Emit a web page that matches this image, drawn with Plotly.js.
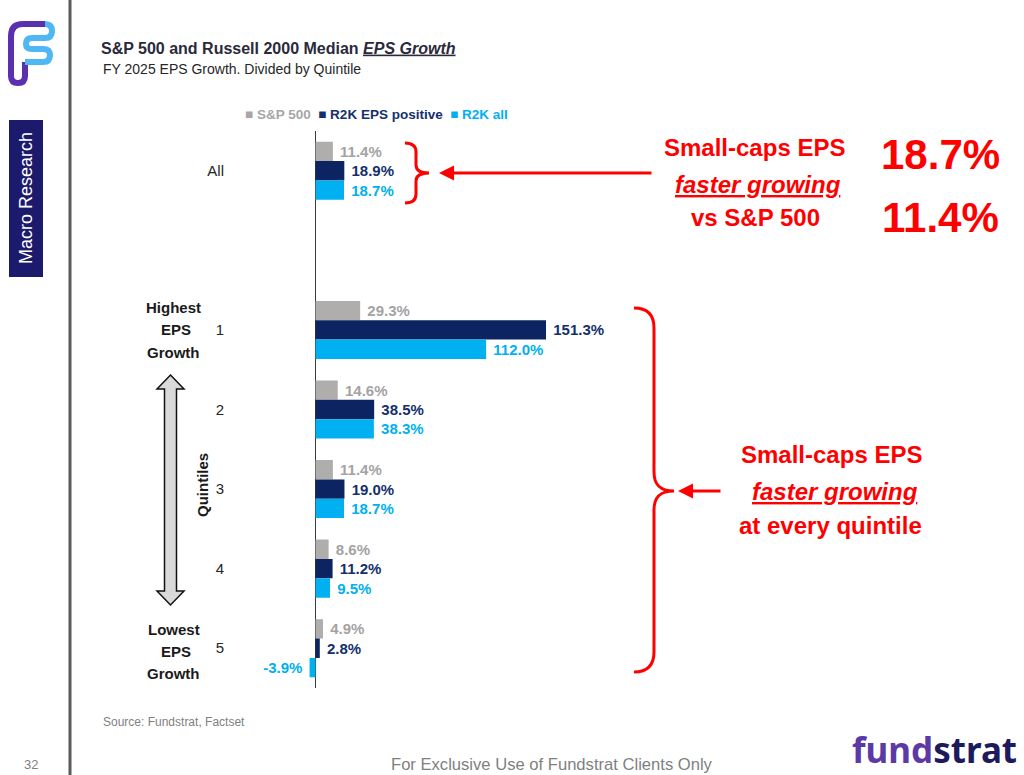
<!DOCTYPE html>
<html>
<head>
<meta charset="utf-8">
<script src="https://cdn.plot.ly/plotly-3.0.1.min.js"></script>
<style>html,body{margin:0;padding:0;background:#fff;}#chart{width:1024px;height:775px;}</style>
</head>
<body>
<div id="chart"></div>
<script>
// ---- data ----
const categories = ['All', 'gap', '1', '2', '3', '4', '5'];
const categoryText = ['All', '', '1', '2', '3', '4', '5'];
const groups = ['All', '1', '2', '3', '4', '5'];
const seriesNames = ['S&P 500', 'R2K EPS positive', 'R2K all'];
const sp500 = [11.4, 29.3, 14.6, 11.4, 8.6, 4.9];
const r2kPositive = [18.9, 151.3, 38.5, 19.0, 11.2, 2.8];
const r2kAll = [18.7, 112.0, 38.3, 18.7, 9.5, -3.9];

// ---- style ----
const W = 1024, H = 775;
const px = x => x / W, py = y => 1 - y / H;
const FONT = 'Liberation Sans, Arial, sans-serif';
const barColors = ['#b0adad', '#0c2461', '#00b0f0'];
const labelColors = ['#a3a3a3', '#13306c', '#00b0f0'];
const RED = '#ff0000';
const NB = '\u00a0';

function labels(vals) {
  return vals.map(v => v < 0 ? v.toFixed(1) + '%' + NB : NB + v.toFixed(1) + '%');
}

const seriesVals = [sp500, r2kPositive, r2kAll];
const traces = seriesVals.map((vals, i) => ({
  type: 'bar',
  orientation: 'h',
  name: seriesNames[i],
  y: groups,
  x: vals,
  marker: {color: barColors[i]},
  text: labels(vals),
  textposition: 'outside',
  textfont: {family: FONT, size: 15, weight: 'bold', color: labelColors[i]},
  constraintext: 'none',
  cliponaxis: false,
  hoverinfo: 'skip'
}));

// pixel path -> paper path
function path(cmds) {
  return cmds.replace(/(-?\d+(?:\.\d+)?),(-?\d+(?:\.\d+)?)/g, (m, a, b) => px(+a) + ',' + py(+b));
}

const shapes = [
  // vertical divider
  {type: 'line', xref: 'paper', yref: 'paper', x0: px(70), x1: px(70), y0: 0, y1: 1, line: {color: '#5a5a5a', width: 3}},
  // Macro Research box
  {type: 'rect', xref: 'paper', yref: 'paper', x0: px(9), x1: px(43), y0: py(277), y1: py(120), fillcolor: '#1c1a6c', line: {width: 0}},
  // logo
  {type: 'path', xref: 'paper', yref: 'paper', path: path('M 25,62 L 25,76 Q 25,83 18,83 Q 11,83 11,76 L 11,36 Q 11,24 23,24 L 45,24'), line: {color: '#5a2fb0', width: 6}},
  {type: 'path', xref: 'paper', yref: 'paper', path: path('M 45,24 Q 52,24 52,31 Q 52,38 45,38 L 32,38 Q 26,38 26,44 Q 26,49 32,49 L 43,49 Q 50,49 50,55 Q 50,62 43,62 L 25,62'), line: {color: '#4fb8f2', width: 6}},
  // double arrow
  {type: 'path', xref: 'paper', yref: 'paper', path: path('M 170.5,375 L 184,389 L 176.5,389 L 176.5,591 L 184,591 L 170.5,605 L 157,591 L 164.5,591 L 164.5,389 L 157,389 Z'), fillcolor: '#d9d9d9', line: {color: '#111111', width: 1.5}},
  // brace 1
  {type: 'path', xref: 'paper', yref: 'paper', path: path('M 405,143 C 412,143 416,146 416,152 L 416,165 C 416,170 420,173 429,173 C 420,173 416,176 416,181 L 416,194 C 416,200 412,203 405,203'), line: {color: RED, width: 3}},
  // brace 2
  {type: 'path', xref: 'paper', yref: 'paper', path: path('M 634,308 C 648,308 654,315 654,328 L 654,472 C 654,485 660,491 674,491 C 660,491 654,497 654,510 L 654,652 C 654,665 648,672 634,672'), line: {color: RED, width: 3}}
];

function A(x, y, text, o) {
  return Object.assign({xref: 'paper', yref: 'paper', x: px(x), y: py(y), text: text, showarrow: false, xanchor: 'center', yanchor: 'middle',
    font: {family: FONT, size: 15, color: '#1a1a1a'}}, o || {});
}
const boldRed = (size) => ({family: FONT, size: size, weight: 'bold', color: RED});

const legendText = seriesNames.map((n, i) =>
  '<span style="color:' + (i === 0 ? '#a6a6a6' : labelColors[i]) + '">\u25A0' + NB + n.replace('&', '&amp;') + '</span>').join(NB + NB);

const annotations = [
  A(101, 69, 'FY 2025 EPS Growth. Divided by Quintile', {xanchor: 'left', font: {family: FONT, size: 14, color: '#262626'}}),
  A(243, 114, legendText, {xanchor: 'left', font: {family: FONT, size: 13.5, weight: 'bold', color: '#a6a6a6'}}),
  A(173.5, 307, 'Highest', {font: {family: FONT, size: 15, weight: 'bold', color: '#1a1a1a'}}),
  A(176, 329, 'EPS', {font: {family: FONT, size: 15, weight: 'bold', color: '#1a1a1a'}}),
  A(173.5, 352, 'Growth', {font: {family: FONT, size: 15, weight: 'bold', color: '#1a1a1a'}}),
  A(173.5, 629, 'Lowest', {font: {family: FONT, size: 15, weight: 'bold', color: '#1a1a1a'}}),
  A(176, 651, 'EPS', {font: {family: FONT, size: 15, weight: 'bold', color: '#1a1a1a'}}),
  A(173.5, 673, 'Growth', {font: {family: FONT, size: 15, weight: 'bold', color: '#1a1a1a'}}),
  A(202, 485, 'Quintiles', {textangle: -90, font: {family: FONT, size: 15, weight: 'bold', color: '#1a1a1a'}}),
  A(26, 198, 'Macro Research', {textangle: -90, font: {family: FONT, size: 18, color: '#ffffff'}}),
  // right callouts
  A(754.5, 148, 'Small-caps EPS', {font: boldRed(24)}),
  A(758, 184, '<i><u>faster growing</u></i>', {font: boldRed(24)}),
  A(755, 218, 'vs S&amp;P 500', {font: boldRed(24)}),
  A(940, 155, '18.7%', {font: boldRed(42)}),
  A(940, 217, '11.4%', {font: boldRed(42)}),
  A(831, 455, 'Small-caps EPS', {font: boldRed(24)}),
  A(835, 491, '<i><u>faster growing</u></i>', {font: boldRed(24)}),
  A(830, 525, 'at every quintile', {font: boldRed(24)}),
  // arrows
  {xref: 'paper', yref: 'paper', x: px(439), y: py(173), text: '', showarrow: true, ax: 214, ay: 0, arrowhead: 2, arrowsize: 1, arrowwidth: 3, arrowcolor: RED, standoff: 0},
  {xref: 'paper', yref: 'paper', x: px(678), y: py(491), text: '', showarrow: true, ax: 44, ay: 0, arrowhead: 2, arrowsize: 1, arrowwidth: 3, arrowcolor: RED, standoff: 0},
  // footer
  A(101, 722, 'Source: Fundstrat, Factset', {xanchor: 'left', font: {family: FONT, size: 12, color: '#7f7f7f'}}),
  A(552, 764, 'For Exclusive Use of Fundstrat Clients Only', {font: {family: FONT, size: 16.6, color: '#7f7f7f'}}),
  A(31, 764, '32', {font: {family: FONT, size: 13, color: '#7f7f7f'}}),
  A(1019, 749, '<span style="color:#5b3aa6">fund</span><span style="color:#1d1b5c">strat</span>', {xanchor: 'right', font: {family: 'Noto Sans, sans-serif', size: 35, weight: 'bold', color: '#1d1b5c'}})
];

const layout = {
  width: W, height: H,
  margin: {l: 0, r: 0, t: 0, b: 0},
  paper_bgcolor: '#ffffff', plot_bgcolor: 'rgba(0,0,0,0)',
  showlegend: false,
  barmode: 'group', bargap: 0.27, bargroupgap: 0,
  title: {text: 'S&amp;P 500 and Russell 2000 Median <i><u>EPS Growth</u></i>', xref: 'paper', yref: 'paper', x: px(101), xanchor: 'left', y: py(48), yanchor: 'middle',
    font: {family: FONT, size: 16, weight: 'bold', color: '#2a2a3a'}},
  xaxis: {domain: [px(255.5), px(1000)], range: [-39.4, 449.3], showgrid: false, showticklabels: false, ticks: '',
    zeroline: true, zerolinecolor: '#3a3a3a', zerolinewidth: 1, fixedrange: true},
  yaxis: {type: 'category', categoryorder: 'array', categoryarray: categories, tickvals: categories, ticktext: categoryText,
    range: [6.5, -0.5], domain: [py(688), py(131)], anchor: 'free', position: px(224), showgrid: false, zeroline: false, showline: false, ticks: '',
    tickfont: {family: FONT, size: 15, color: '#262626'}, fixedrange: true},
  shapes: shapes,
  annotations: annotations,
  font: {family: FONT}
};

Plotly.newPlot('chart', traces, layout, {displayModeBar: false, staticPlot: true});
</script>
</body>
</html>
